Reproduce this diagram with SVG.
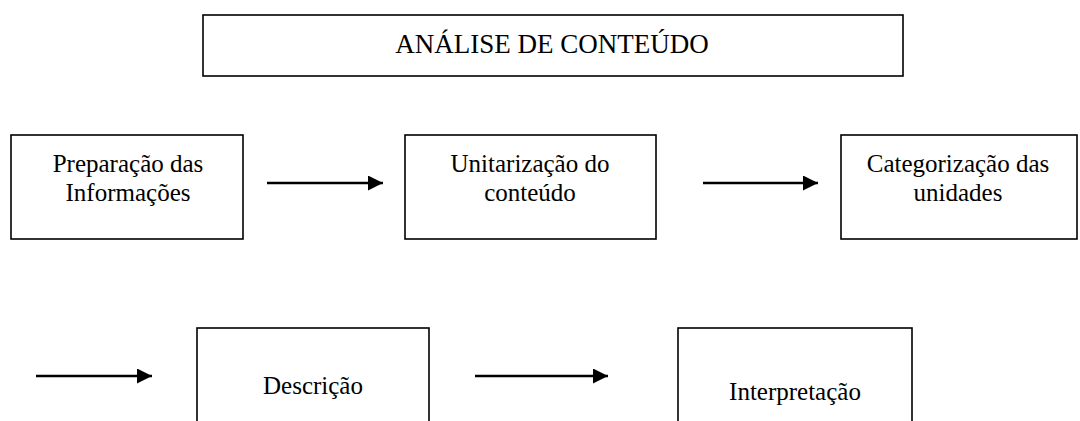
<svg xmlns="http://www.w3.org/2000/svg" width="1080" height="421" viewBox="0 0 1080 421">
<style>
.box{fill:#fff;stroke:#000;stroke-width:1.6}
.t{font-family:"Liberation Serif","Times New Roman",serif;font-size:25px;fill:#000;text-anchor:middle}
.h{font-size:27px}
.c{stroke:#000;stroke-width:2.5;fill:none}
</style>
<defs>
<marker id="ah" markerUnits="userSpaceOnUse" markerWidth="16" markerHeight="16" refX="15" refY="7.5" orient="auto">
<path d="M0,0 L15,7.5 L0,15 Z" fill="#000"/>
</marker>
</defs>
<rect width="1080" height="421" fill="#fff"/>
<g id="title">
<rect class="box" x="203" y="15" width="700" height="61"/>
<text class="t h" x="552" y="53">ANÁLISE DE CONTEÚDO</text>
</g>
<g id="n1">
<rect class="box" x="11" y="135" width="232" height="104"/>
<text class="t" x="128" y="172">Preparação das</text>
<text class="t" x="128" y="201">Informações</text>
</g>
<g id="n2">
<rect class="box" x="405" y="135" width="251" height="104"/>
<text class="t" x="530" y="172">Unitarização do</text>
<text class="t" x="530" y="201">conteúdo</text>
</g>
<g id="n3">
<rect class="box" x="841" y="135" width="236" height="104"/>
<text class="t" x="958" y="172">Categorização das</text>
<text class="t" x="958" y="201">unidades</text>
</g>
<g id="n4">
<rect class="box" x="197" y="328" width="232" height="110"/>
<text class="t" x="313" y="394">Descrição</text>
</g>
<g id="n5">
<rect class="box" x="678" y="328" width="234" height="110"/>
<text class="t" x="795" y="400">Interpretação</text>
</g>
<g id="connectors">
<line class="c" x1="267" y1="183" x2="383" y2="183" marker-end="url(#ah)"/>
<line class="c" x1="703" y1="183" x2="818" y2="183" marker-end="url(#ah)"/>
<line class="c" x1="36" y1="376" x2="152" y2="376" marker-end="url(#ah)"/>
<line class="c" x1="475" y1="376" x2="608" y2="376" marker-end="url(#ah)"/>
</g>
</svg>
